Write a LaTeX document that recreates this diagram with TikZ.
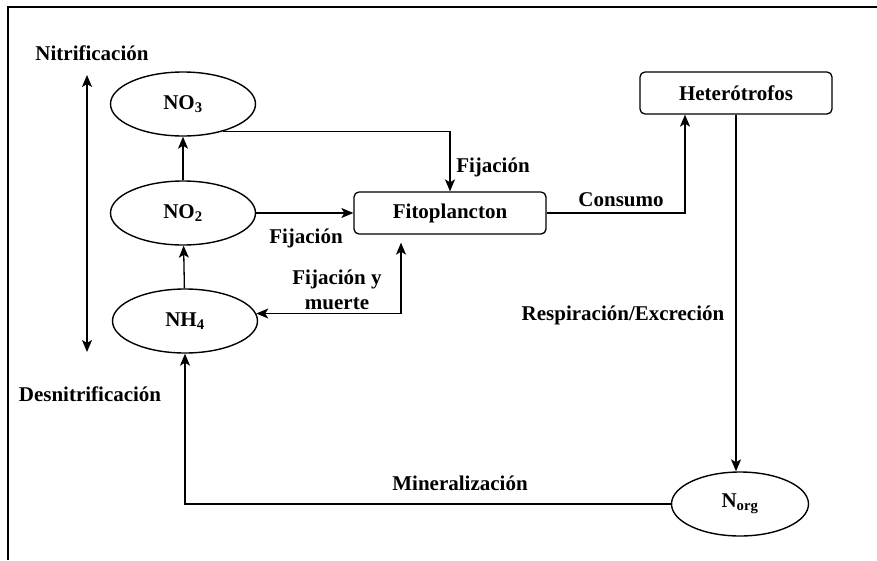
\documentclass[tikz,border=0pt]{standalone}
\usepackage{fontspec}
\setmainfont{Liberation Serif}
\usetikzlibrary{arrows.meta,shapes.geometric}

\tikzset{
  pool/.style={draw, ellipse, line width=1.4pt, minimum width=145pt, minimum height=64pt, inner sep=0pt, font=\bfseries\fontsize{21}{23}\selectfont},
  comp/.style={draw, rounded corners=5pt, line width=1.3pt, minimum width=192pt, minimum height=42pt, inner sep=0pt, font=\bfseries\fontsize{21}{23}\selectfont},
  lbl/.style={inner sep=0pt, align=center, font=\bfseries\fontsize{21}{25}\selectfont},
  flow/.style={line width=1.3pt, -{Stealth[length=12pt,width=10pt,inset=3pt]}},
  flows/.style={line width=1.3pt, {Stealth[length=12pt,width=10pt,inset=3pt]}-{Stealth[length=12pt,width=10pt,inset=3pt]}}
}

\begin{document}
\begin{tikzpicture}[x=1pt,y=-1pt]
\useasboundingbox (0,0) rectangle (877,560);

%Frame
\draw [line width=1.5pt] (8,560) -- (8,7) -- (877,7) ;

%Pools
\node [pool] (NO3) at (183,104) {NO\textsubscript{3}};
\node [pool] (NO2) at (183,213) {NO\textsubscript{2}};
\node [pool] (NH4) at (185,321) {NH\textsubscript{4}};
\node [pool, minimum width=137pt] (Norg) at (740,504) {N\textsubscript{org}};

%Compartments
\node [comp] (fito) at (450,213) {Fitoplancton};
\node [comp] (het) at (736,93) {Heterótrofos};

%Nitrification / Denitrification
\coordinate (nitTop) at (87,75);
\coordinate (nitBot) at (87,352);
\draw [flows] (nitBot) -- (nitTop) ;
\node [lbl] (nit) at (92,53) {Nitrificación};
\node [lbl] (desnit) at (90,394) {Desnitrificación};

%Chain NH4 - NO2 - NO3
\draw [flow] (NH4) -- (NO2) ;
\draw [flow] (NO2) -- (NO3) ;

%Fixation
\draw [flow] (NO3.-34) -| (fito.north) ;
\draw [flow] (NO2) -- (fito) ;
\draw [flows, shorten <=8pt] ([xshift=-49pt]fito.south) |- (NH4.6) ;
\node [lbl] (fijA) at (493,167) {Fijación};
\node [lbl] (fijB) at (306,238) {Fijación};
\node [lbl] (fijC) at (337,290) {Fijación y\\muerte};

%Consumption
\draw [flow] (fito.east) -| ([xshift=-51pt]het.south) ;
\node [lbl] (cons) at (621,200) {Consumo};

%Respiration / Excretion
\draw [flow] (het.south) -- (het.south |- Norg.north) ;
\node [lbl] (resp) at (623,315) {Respiración/Excreción};

%Mineralization
\draw [flow] (Norg.west) -| (NH4.south) ;
\node [lbl] (mine) at (460,483) {Mineralización};

\end{tikzpicture}
\end{document}
